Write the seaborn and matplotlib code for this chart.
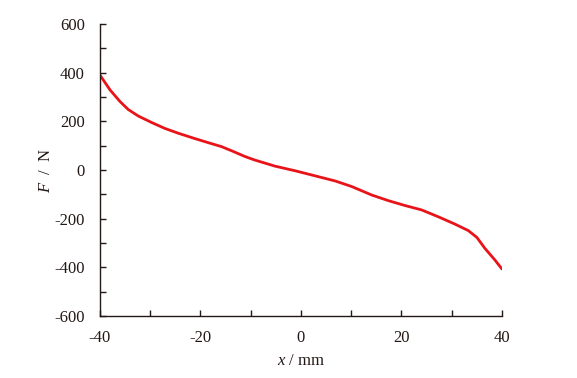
import numpy as np
import pandas as pd
import matplotlib
matplotlib.use("Agg")
import matplotlib.pyplot as plt
import seaborn as sns
from matplotlib.ticker import MultipleLocator

sns.set_style("ticks")
plt.rcParams['font.family'] = ['Liberation Serif', 'DejaVu Serif']
plt.rcParams['mathtext.fontset'] = 'custom'
plt.rcParams['mathtext.rm'] = 'Liberation Serif'
plt.rcParams['mathtext.it'] = 'Liberation Serif:italic'
plt.rcParams['axes.unicode_minus'] = False

# displacement (mm) and force (N)
x_mm = [-40, -38.0, -36.0, -34.4, -32.4, -29.7, -27.1, -24.4, -21.1, -18.4,
        -15.8, -13.8, -11.1, -9.2, -5.2, -1.0, 3.0, 6.8, 10.1, 14.1,
        17.4, 20.7, 24.0, 27.3, 30.6, 33.3, 35.0, 36.6, 38.6, 40]
force_N = [390, 329, 281, 249, 222, 195, 171, 151, 129, 112,
           96, 79, 55, 41, 16, -4, -25, -45, -68, -103,
           -126, -146, -164, -192, -222, -249, -277, -322, -370, -407]

df = pd.DataFrame({'x': x_mm, 'F': force_N})

fig = plt.figure(figsize=(5.77, 3.78), dpi=100)
ax = fig.add_axes([0.1733, 0.164, 0.6967, 0.7725])

sns.lineplot(data=df, x='x', y='F', ax=ax, color='#e8141a', linewidth=2.0, sort=False)

ax.set_xlim(-40, 40)
ax.set_ylim(-600, 600)
ax.xaxis.set_major_locator(MultipleLocator(20))
ax.xaxis.set_minor_locator(MultipleLocator(10))
ax.yaxis.set_major_locator(MultipleLocator(200))
ax.yaxis.set_minor_locator(MultipleLocator(100))
ax.tick_params(which='both', direction='in', length=4, width=1, colors='#231815',
               labelsize=12, labelcolor='#231815')
ax.tick_params(axis='x', pad=10)
ax.tick_params(axis='y', pad=11)

sns.despine(ax=ax)
for s in ['left', 'bottom']:
    ax.spines[s].set_color('#231815')
    ax.spines[s].set_linewidth(1)

ax.set_xlabel(r'$x$ / mm', fontsize=12, color='#231815', labelpad=5)
ax.set_ylabel(r'$F$  /  N', fontsize=12, color='#231815', labelpad=0)

fig.savefig('out.png', dpi=100)
